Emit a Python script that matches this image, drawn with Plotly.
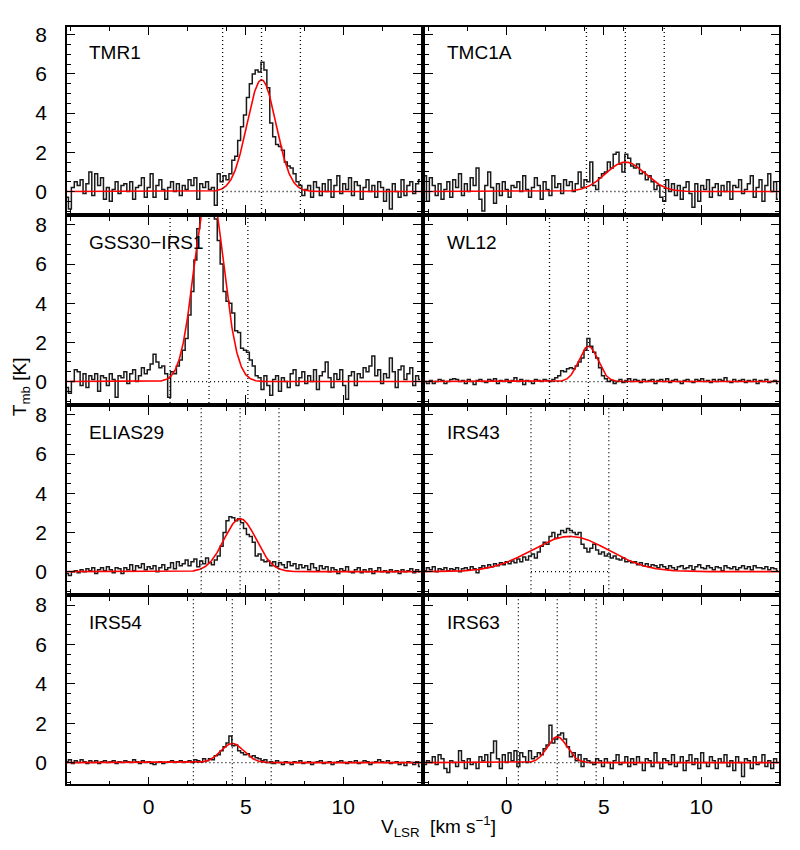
import numpy as np
import plotly.graph_objects as go

# source names, in reading order (left->right, top->bottom)
sources = ["TMR1", "TMC1A", "GSS30\u2212IRS1", "WL12", "ELIAS29", "IRS43", "IRS54", "IRS63"]

# velocity grid of the spectra (km/s)
v_first = -4.2
v_step = 0.15

# Tmb [K] per channel
tmr1 = [-0.3, -0.9, 0.2, 0.5, 0.3, 0.6, -0.1, 0.4, 1.0, -0.2,
        0.9, 0.3, 0.7, -0.4, 0.2, -0.5, 0.1, 0.5, -0.1, 0.3,
        0.4, 0.0, 0.5, -0.4, 0.2, 0.3, 0.7, -0.3, 0.2, 0.9,
        -0.3, 0.3, 0.6, 0.1, -0.4, 0.2, 0.5, 0.0, 0.4, -0.2,
        0.3, 0.1, 0.6, 0.3, 0.7, -0.4, 0.4, 0.2, 0.5, 0.1,
        0.2, -0.7, 0.9, 0.5, 0.8, 0.6, 0.9, 1.6, 1.8, 2.6,
        3.3, 3.9, 4.8, 5.5, 6.0, 6.2, 6.1, 6.6, 6.2, 5.3,
        3.5, 2.8, 2.4, 2.3, 2.1, 1.5, 1.3, 1.2, 0.9, 0.5,
        0.3, -0.2, 0.1, 0.3, -0.3, 0.5, 0.2, -0.2, 0.4, 0.0,
        0.6, -0.3, 0.3, 0.8, -0.1, 0.4, 0.1, 0.7, -0.2, 0.5,
        0.3, -0.4, 0.2, 0.6, 0.0, 0.3, -0.3, 0.5, 0.2, -0.5,
        0.1, -0.9, 0.4, 0.0, -0.3, 0.6, -0.2, 0.3, 0.5, -0.1,
        0.4, 0.6]
tmc1a = [0.8, -0.5, 0.7, 0.3, -0.2, 0.4, -0.4, 0.1, 0.5, -0.3,
         0.6, 0.2, 0.9, -0.2, 0.4, 0.0, 0.7, 0.3, 1.2, -0.4,
         -1.0, 0.3, 1.0, 0.2, -0.6, 0.4, -0.2, 0.5, 0.1, -0.3,
         0.3, 0.2, 0.5, 0.0, 0.8, 0.1, -0.3, 0.2, 0.7, 0.3,
         -0.4, 0.5, 0.1, -0.2, 0.8, 0.2, 0.4, -0.1, 0.6, 0.3,
         0.5, 0.0, 0.4, 1.0, 0.2, 0.6, 0.5, 1.5, 0.3, 0.1,
         0.7, 0.9, 1.0, 1.5, 1.2, 1.9, 2.0, 1.4, 1.0, 1.9,
         1.7, 1.3, 1.2, 1.4, 0.9, 1.0, 0.6, 0.8, 0.5, 0.1,
         0.3, -0.3, -0.5, 0.6, 0.0, 0.4, -0.2, 0.3, -0.4, 0.2,
         0.5, -0.1, -0.8, 0.4, -0.5, 0.3, 0.1, 0.6, -0.3, 0.2,
         0.4, -0.2, 0.3, 0.0, 0.5, -0.4, 0.3, 0.2, 0.6, -0.1,
         0.1, 0.4, 0.8, -0.3, 0.2, 0.6, -0.5, 0.3, 0.9, 0.0,
         0.5, -0.4]
gss30 = [-0.3, -0.6, 0.0, 0.6, 0.5, -0.2, 0.4, -0.3, 0.3, 0.1,
         0.4, -0.5, 0.3, 0.2, -0.2, 0.4, 0.1, -0.8, 0.3, 0.2,
         0.5, -0.1, 0.4, 0.6, 0.0, 0.3, 0.7, 0.4, 0.6, 0.9,
         1.4, 1.0, 0.7, 0.8, 0.4, -0.8, 0.5, 0.4, 0.8, 1.1,
         1.6, 2.2, 3.4, 4.6, 6.2, 7.8, 9.0, 9.8, 10.2, 10.0,
         9.4, 8.3, 7.2, 6.0, 4.6, 4.1, 4.0, 3.5, 2.6, 2.5,
         1.7, 1.6, 1.5, 1.1, 0.8, 0.3,
         0.2, -0.4, 0.3, -0.2, -0.7, 0.1, 0.3, -0.5, 0.2, 0.0,
         -0.3, 0.4, 0.6, -0.2, 0.2, 0.5, -0.1, 0.3, 0.0, 0.6,
         -0.4, 0.3, 0.5, 1.0, 0.2, -0.3, 0.4, 0.1, 0.6, -0.2,
         -0.9, 0.3, 0.5, -0.2, 0.4, 0.2, 0.7, 0.5, 0.8, 1.3,
         0.3, 0.6, -0.1, 0.4, 0.2, 1.2, 0.5, -0.3, 0.6, 0.8,
         0.1, 0.4, 0.7, -0.2, 0.3, 0.1]
wl12 = [0.0, -0.1, 0.05, -0.1, 0.0, 0.1, 0.05, -0.1, 0.0, 0.1,
        0.15, 0.1, 0.0, 0.05, -0.1, 0.1, 0.0, -0.15, 0.05, 0.1,
        0.0, -0.05, 0.1, 0.05, 0.15, -0.1, 0.05, 0.0, 0.1, -0.05,
        0.05, 0.2, 0.0, 0.1, -0.15, 0.05, 0.0, -0.1, 0.1, 0.05,
        0.0, 0.1, 0.05, 0.0, 0.1, 0.2, 0.3, 0.55, 0.5, 0.65,
        0.7, 0.65, 0.8, 1.0, 1.2, 1.6, 2.2, 1.8, 1.5, 1.2,
        0.7, 0.3, 0.15, 0.0, 0.05, -0.1, 0.0, 0.1, -0.05, 0.05,
        0.15, 0.0, 0.1, 0.05, -0.05, 0.1, 0.0, 0.05, 0.1, -0.1,
        0.05, 0.1, 0.0, 0.15, -0.05, 0.05, 0.1, 0.0, -0.1, 0.05,
        0.1, 0.0, -0.05, 0.1, 0.05, 0.15, 0.0, 0.05, -0.05, 0.1,
        0.0, 0.1, 0.05, 0.2, 0.0, -0.05, 0.1, 0.0, 0.05, 0.1,
        -0.05, 0.05, 0.0, 0.1, -0.1, 0.05, 0.0, 0.1, -0.05, 0.0,
        0.05, -0.1]
elias29 = [-0.1, -0.2, 0.0, 0.05, -0.05, 0.1, 0.0, 0.15, 0.05, 0.2,
           -0.1, 0.1, 0.2, 0.05, 0.25, 0.1, -0.05, 0.2, 0.15, -0.1,
           0.2, 0.1, 0.35, 0.05, 0.3, 0.2, 0.4, 0.1, 0.25, 0.15,
           0.3, 0.0, 0.2, 0.35, 0.1, 0.2, 0.45, 0.15, 0.5, 0.3,
           0.4, 0.6, 0.3, 0.5, 0.65, 0.25, 0.55, 0.4, 0.7, 0.45,
           0.35, 0.6, 0.8, 1.3, 2.0, 2.6, 2.8, 2.75, 2.6, 2.7,
           2.5, 2.2, 1.9, 1.8, 1.5, 0.8, 0.9, 0.6, 0.5, 0.55,
           0.3, 0.5, 0.25, 0.45, 0.35, 0.2, 0.5, 0.3, 0.4, 0.15,
           0.35, 0.2, 0.3, 0.1, 0.4, 0.2, 0.05, 0.3, 0.15, 0.25,
           0.0, 0.2, 0.1, -0.1, 0.15, 0.05, 0.25, 0.0, -0.05, 0.1,
           0.2, -0.05, 0.1, 0.0, 0.15, -0.1, 0.05, 0.2, 0.0, 0.05,
           -0.05, 0.1, 0.0, 0.05, -0.1, 0.1, 0.0, 0.05, 0.15, -0.05,
           0.1, 0.0]
irs43 = [0.05, 0.2, 0.1, 0.25, 0.0, 0.15, 0.1, 0.2, 0.05, 0.15,
         0.1, 0.2, 0.0, 0.15, 0.2, 0.1, 0.25, 0.15, -0.05, 0.2,
         0.3, 0.2, 0.35, 0.25, 0.4, 0.3, 0.45, 0.35, 0.5, 0.4,
         0.55, 0.45, 0.65, 0.5, 0.75, 0.6, 0.8, 0.9, 0.7, 1.0,
         1.3, 1.5, 1.4, 1.8, 2.0, 1.7, 1.9, 2.1, 2.0, 2.2,
         2.1, 2.0, 1.9, 2.0, 1.4, 1.2, 1.0, 1.2, 1.4, 1.1,
         0.9, 1.0, 0.8, 0.9, 0.7, 0.8, 0.65, 0.6, 0.7, 0.5,
         0.55, 0.45, 0.5, 0.35, 0.45, 0.3, 0.4, 0.25, 0.35, 0.3,
         0.2, 0.35, 0.25, 0.15, 0.3, 0.2, 0.1, 0.25, 0.3, 0.15,
         0.2, 0.3, 0.1, 0.25, 0.35, 0.2, 0.15, 0.3, 0.2, 0.1,
         0.25, 0.2, 0.05, 0.3, 0.2, 0.15, 0.25, 0.1, 0.2, 0.3,
         0.15, 0.25, 0.1, 0.3, 0.2, 0.2, 0.15, 0.25, 0.1, 0.2,
         0.15, 0.05]
irs54 = [0.05, 0.15, -0.05, 0.1, 0.0, 0.15, 0.05, -0.05, 0.1, 0.0,
         0.1, -0.05, 0.05, 0.1, 0.0, 0.05, 0.1, -0.05, 0.05, 0.0,
         0.1, 0.05, 0.0, 0.15, 0.05, -0.05, 0.1, 0.0, 0.05, -0.05,
         -0.1, 0.0, 0.05, -0.05, 0.0, 0.05, 0.1, 0.0, 0.05, 0.1,
         0.0, 0.05, 0.1, 0.0, 0.15, 0.1, 0.05, 0.2, 0.1, 0.2,
         0.15, 0.35, 0.4, 0.6, 0.8, 1.0, 1.35, 0.85, 0.9, 0.6,
         0.5, 0.4, 0.45, 0.3, 0.35, 0.25, 0.2, 0.1, 0.15, 0.0,
         0.05, -0.05, 0.1, 0.0, -0.1, 0.05, 0.0, -0.1, 0.05, 0.0,
         0.1, -0.05, 0.0, 0.05, -0.1, 0.0, 0.05, 0.1, -0.05, 0.0,
         0.05, -0.1, 0.0, 0.05, 0.1, 0.0, -0.05, 0.05, 0.0, 0.1,
         -0.05, 0.0, 0.1, 0.05, -0.1, 0.0, 0.05, 0.15, 0.05, 0.0,
         0.1, -0.05, 0.0, 0.05, -0.1, 0.0, -0.15, 0.05, 0.0, -0.1,
         0.05, -0.2]
irs63 = [-0.1, 0.1, 0.0, 0.3, -0.1, 0.4, 0.2, -0.3, -0.5, 0.1,
         0.0, -0.2, 0.6, 0.1, -0.3, 0.2, -0.1, 0.0, -0.3, 0.3,
         0.1, 0.4, -0.2, 0.5, 1.1, 0.2, -0.3, 0.4, 0.0, 0.5,
         0.1, 0.6, -0.2, 0.5, 0.3, 0.0, 0.6, 0.2, 0.3, 0.5,
         0.4, 0.7, 0.9, 1.9, 1.0, 1.2, 1.4, 1.5, 1.2, 0.8,
         0.3, 0.5, 0.1, 0.4, -0.2, 0.2, 0.1, 0.0, -0.1, 0.2,
         0.1, -0.2, 0.2, 0.0, -0.3, 0.1, 0.4, -0.1, 0.0, 0.3,
         -0.2, 0.2, -0.1, 0.3, 0.0, -0.4, 0.2, 0.1, -0.2, 0.5,
         0.0, -0.3, 0.2, 0.1, -0.1, 0.4, -0.2, 0.0, 0.3, -0.4,
         0.1, 0.4, -0.1, 0.2, -0.3, 0.5, 0.0, -0.2, 0.3, 0.1,
         -0.3, 0.2, 0.0, 0.4, -0.2, 0.1, -0.4, 0.3, 0.0, -0.7,
         0.2, 0.1, -0.3, 0.3, -0.1, 0.0, 0.4, -0.2, 0.1, -0.3,
         0.2, 0.0]

spectra = [tmr1, tmc1a, gss30, wl12, elias29, irs43, irs54, irs63]

# gaussian fit parameters (peak K, centre km/s, FWHM km/s)
fit_peak = [5.7, 1.5, 10.2, 1.8, 2.7, 1.8, 0.97, 1.31]
fit_v0 = [5.8, 6.1, 3.1, 4.2, 4.7, 3.25, 4.3, 2.6]
fit_fwhm = [1.75, 2.4, 1.72, 1.15, 1.95, 4.7, 1.4, 1.2]

# the page body adds an 8px margin, so the figure is 16px smaller and shifted
OFF = 8
W, H = 800 - 2 * OFF, 850 - 2 * OFF
col_px = [(67, 421), (425, 779)]
row_px = [(23, 210), (214, 401), (405, 592), (596, 784)]
xr = [-4.2, 14.0]
yr = [-1.1, 8.4]
font = "Liberation Sans, Arial, Helvetica, sans-serif"


def fx(px):
    return (px - OFF) / W


def fy(px):
    return 1 - (px - OFF) / H


fig = go.Figure()
vfine = np.linspace(xr[0], xr[1], 800)

for i, (name, spec) in enumerate(zip(sources, spectra)):
    n = i + 1
    sfx = "" if n == 1 else str(n)
    row, col = divmod(i, 2)
    xa, ya = "x" + sfx, "y" + sfx
    vel = v_first + v_step * np.arange(len(spec))
    fig.add_trace(go.Scatter(x=vel, y=spec, mode="lines", line_shape="hvh",
                             line=dict(color="#1a1a1a", width=1.5),
                             xaxis=xa, yaxis=ya, showlegend=False))
    fit = fit_peak[i] * np.exp(-4 * np.log(2) * (vfine - fit_v0[i]) ** 2 / fit_fwhm[i] ** 2)
    fig.add_trace(go.Scatter(x=vfine, y=fit, mode="lines",
                             line=dict(color="#ff0000", width=1.6),
                             xaxis=xa, yaxis=ya, showlegend=False))

    # dotted markers at v0 and v0 +/- 2 km/s, zero level between them
    for dvv in (-2, 0, 2):
        fig.add_shape(type="line", xref=xa, yref=ya + " domain",
                      x0=fit_v0[i] + dvv, x1=fit_v0[i] + dvv, y0=0, y1=1,
                      line=dict(color="black", width=1.3, dash="1px,3px"))
    fig.add_shape(type="line", xref=xa, yref=ya, x0=fit_v0[i] - 2, x1=fit_v0[i] + 2,
                  y0=0, y1=0, line=dict(color="black", width=1.3, dash="1px,3px"))

    fig.add_annotation(text=name, xref=xa + " domain", yref=ya + " domain",
                       x=0.056, y=0.865, xanchor="left", yanchor="middle",
                       showarrow=False, font=dict(family=font, size=19, color="black"))

    x0, x1 = col_px[col]
    y0, y1 = row_px[row]
    axis_common = dict(showline=True, linecolor="black", linewidth=1.5, mirror="ticks",
                       ticks="inside", tickcolor="black", tickwidth=1.2, ticklen=8,
                       showgrid=False, zeroline=False,
                       tickfont=dict(family=font, size=21, color="black"))
    fig.update_layout({
        "xaxis" + sfx: dict(axis_common, domain=[fx(x0), fx(x1)], anchor=ya, range=xr,
                            tick0=0, dtick=5, showticklabels=(row == 3),
                            ticklabelstandoff=3,
                            minor=dict(tick0=0, dtick=2, ticks="inside", ticklen=4,
                                       tickwidth=1.2, tickcolor="black")),
        "yaxis" + sfx: dict(axis_common, domain=[fy(y1), fy(y0)], anchor=xa, range=yr,
                            tick0=0, dtick=2, showticklabels=(col == 0),
                            ticklabelstandoff=14,
                            minor=dict(tick0=0, dtick=0.5, ticks="inside", ticklen=4,
                                       tickwidth=1.2, tickcolor="black")),
    })

fig.add_annotation(text="V<sub>LSR</sub>  [km s<sup>\u22121</sup>]", xref="paper", yref="paper",
                   x=fx(438), y=0, xanchor="center", yanchor="bottom", showarrow=False,
                   font=dict(family=font, size=19, color="black"))
fig.add_annotation(text="T<sub>mb</sub> [K]", xref="paper", yref="paper",
                   x=fx(21), y=fy(385), xanchor="center", yanchor="middle", showarrow=False,
                   textangle=-90, font=dict(family=font, size=19, color="black"))

fig.update_layout(width=W, height=H, margin=dict(l=0, r=0, t=0, b=0),
                  paper_bgcolor="white", plot_bgcolor="white")
fig.write_html("out.html")
